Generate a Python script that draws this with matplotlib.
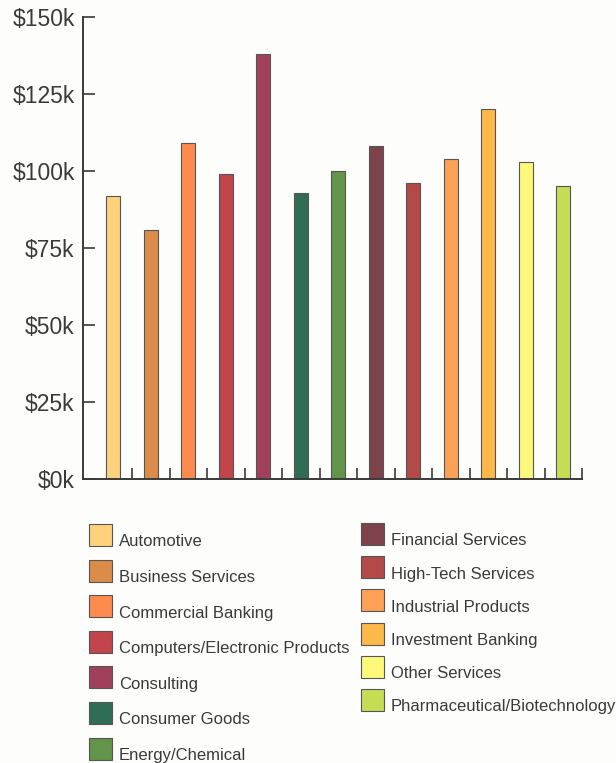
#!/usr/bin/env python3

import matplotlib.pyplot as plt
from matplotlib.patches import Patch, Rectangle
from matplotlib.legend_handler import HandlerPatch
import numpy as np

industries = ['Automotive', 'Business Services', 'Commercial Banking',
              'Computers/Electronic Products', 'Consulting', 'Consumer Goods',
              'Energy/Chemical', 'Financial Services', 'High-Tech Services',
              'Industrial Products', 'Investment Banking', 'Other Services',
              'Pharmaceutical/Biotechnology']
salary_k = [92, 81, 109, 99, 138, 93, 100, 108, 96, 104, 120, 103, 95]
colors = ['#FDD27A', '#DB8C48', '#FD8A4E', '#C2454C', '#A0405A', '#2F6E55',
          '#62944A', '#7E434A', '#B24A48', '#FCA155', '#FDB84A', '#FEF87A',
          '#C5DC55']
y_ticks = [0, 25, 50, 75, 100, 125, 150]
y_labels = ['$0k', '$25k', '$50k', '$75k', '$100k', '$125k', '$150k']

plt.rcParams['font.family'] = ['Liberation Sans', 'DejaVu Sans']
ink = '#3a3a3a'
bg = '#FDFDFB'

W, H = 616, 763
fig = plt.figure(figsize=(W / 100, H / 100), dpi=100, facecolor=bg)
ax = fig.add_axes([83 / W, 1 - 479 / H, 499 / W, 462 / H])
ax.set_facecolor(bg)

x = np.arange(len(industries))
ax.bar(x, salary_k, width=0.38, color=colors, edgecolor='#555555', linewidth=0.8, zorder=2)

ax.set_xlim(-0.807, len(industries) - 0.5)
ax.set_ylim(0, 150)

ax.set_yticks(y_ticks)
ax.set_yticklabels(y_labels, fontsize=16.5, color=ink)
ax.set_xticks(x + 0.5)
ax.set_xticklabels([])

ax.tick_params(axis='y', direction='in', length=8.6, width=1.2, color=ink, pad=6)
ax.tick_params(axis='x', direction='in', length=8, width=1.2, color=ink)

for side in ['top', 'right']:
    ax.spines[side].set_visible(False)
for side in ['left', 'bottom']:
    ax.spines[side].set_color(ink)
    ax.spines[side].set_linewidth(1.4)


# swatches sit a little higher than their label text
def raised_box(legend, orig_handle, xdescent, ydescent, width, height, fontsize):
    return Rectangle((-xdescent, -ydescent + 4.3), width, height)


handles = [Patch(facecolor=c, edgecolor='#555555', linewidth=0.8) for c in colors]
fs = 12
common = dict(frameon=False, fontsize=fs, handlelength=1.38, handleheight=1.654,
              handletextpad=0.42, borderpad=0, borderaxespad=0, loc='upper left',
              labelcolor=ink, handler_map={Patch: HandlerPatch(patch_func=raised_box)})

leg1 = fig.legend(handles[:7], industries[:7], bbox_to_anchor=(89 / W, 1 - 530 / H),
                  labelspacing=0.816, **common)
leg2 = fig.legend(handles[7:], industries[7:], bbox_to_anchor=(361 / W, 1 - 529 / H),
                  labelspacing=0.67, **common)

fig.savefig('out.png', dpi=100, facecolor=bg)
